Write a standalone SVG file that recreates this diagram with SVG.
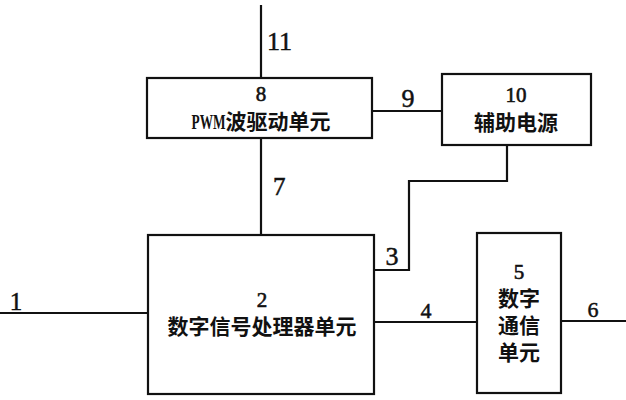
<svg xmlns="http://www.w3.org/2000/svg" width="626" height="400" viewBox="0 0 626 400">
<style>
.box{fill:#fff;stroke:#111;stroke-width:2.2}
.wire{fill:none;stroke:#111;stroke-width:2.2}
.num{font-family:"Liberation Serif","Times New Roman",serif;fill:#111;stroke:#111;stroke-width:0.5}
.in{font-family:"Liberation Serif","Times New Roman",serif;fill:#111;stroke:#111;stroke-width:0.6;text-anchor:middle;font-size:21px}
.cjk{font-family:"Noto Sans CJK SC","Noto Sans",sans-serif;font-weight:bold;fill:#111;text-anchor:middle;font-size:21px}
</style>
<rect width="626" height="400" fill="#fff"/>
<g id="connectors">
<line class="wire" x1="261" y1="5" x2="261" y2="78"/>
<line class="wire" x1="261" y1="138" x2="261" y2="235"/>
<line class="wire" x1="372" y1="111" x2="442" y2="111"/>
<polyline class="wire" points="374,270 409,270 409,181 507,181 507,145"/>
<line class="wire" x1="0" y1="313" x2="148" y2="313"/>
<line class="wire" x1="374" y1="322" x2="477" y2="322"/>
<line class="wire" x1="561" y1="321" x2="626" y2="321"/>
<text class="num" x="267" y="50" font-size="26">11</text>
<text class="num" x="273" y="195" font-size="25">7</text>
<text class="num" x="408" y="107" font-size="26" text-anchor="middle">9</text>
<text class="num" x="392" y="265" font-size="26" text-anchor="middle">3</text>
<text class="num" x="16" y="310" font-size="25" text-anchor="middle">1</text>
<text class="num" x="426" y="318" font-size="22" text-anchor="middle">4</text>
<text class="num" x="593" y="317" font-size="22" text-anchor="middle">6</text>
</g>
<g id="node8">
<rect class="box" x="147" y="78" width="225" height="60"/>
<text class="in" x="261" y="101" font-size="20">8</text>
<text class="cjk" x="261" y="129"><tspan font-family="Liberation Serif,serif" font-size="22" textLength="34" lengthAdjust="spacingAndGlyphs">PWM</tspan>波驱动单元</text>
</g>
<g id="node10">
<rect class="box" x="442" y="74" width="149" height="71"/>
<text class="in" x="516" y="102">10</text>
<text class="cjk" x="516" y="130">辅助电源</text>
</g>
<g id="node2">
<rect class="box" x="148" y="235" width="226" height="159"/>
<text class="in" x="262" y="307">2</text>
<text class="cjk" x="262" y="334">数字信号处理器单元</text>
</g>
<g id="node5">
<rect class="box" x="477" y="233" width="84" height="160"/>
<text class="in" x="519" y="279">5</text>
<text class="cjk" x="519" y="306">数字</text>
<text class="cjk" x="519" y="333">通信</text>
<text class="cjk" x="519" y="360">单元</text>
</g>
</svg>
